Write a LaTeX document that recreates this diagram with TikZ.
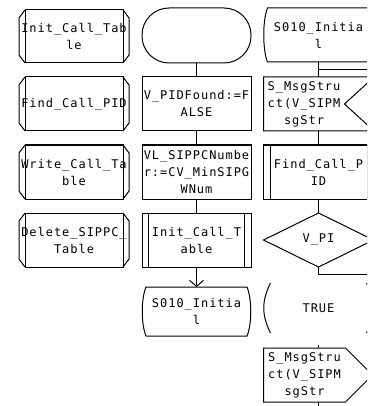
\documentclass[tikz,border=0pt]{standalone}
\usepackage{fontspec}
\newfontfamily\sdlfont[LetterSpace=8]{DejaVu Sans Mono}
\usetikzlibrary{shapes.geometric,calc,arrows.meta}
% one centred text row that does not widen its symbol
\newcommand\sdlrow[1]{\makebox[0pt]{#1}}

\begin{document}
\begin{tikzpicture}[x=1pt,y=-1pt,
  sdl/.style={line width=1pt},
  sym/.style={sdl, rectangle, inner sep=0pt, outer sep=0pt, align=center,
    font={\sdlfont\fontsize{12}{17}\selectfont}},
  procref/.style={sym, draw, minimum width=98pt, minimum height=54pt},
  task/.style={sym, draw, minimum width=109pt, minimum height=54pt},
  startsym/.style={sym, draw, rounded corners=27pt, minimum width=109pt, minimum height=55pt},
  plain/.style={sym, minimum height=54pt},
  decision/.style={sym, draw, diamond, aspect=2, minimum width=110pt, minimum height=54pt},
  flowarrow/.style={sdl, -{Straight Barb[length=6pt,width=14pt]}}
]
\useasboundingbox (0,0) rectangle (367,406);
\fill[white] (0,0) rectangle (367,406);
\clip (0,0) rectangle (367,406);

% ---- procedure references ----
\node[procref, minimum height=53pt] (L1) at (74,36.5) {\sdlrow{Init\_Call\_Tab}\\\sdlrow{le}};
\node[procref] (L2) at (74,104) {\sdlrow{Find\_Call\_PID}};
\node[procref] (L3) at (74,172) {\sdlrow{Write\_Call\_Ta}\\\sdlrow{ble}};
\node[procref] (L4) at (74,240) {\sdlrow{Delete\_SIPPC\_}\\\sdlrow{Table}};
\foreach \n in {L1,L2,L3,L4} {
  \draw[sdl] (\n.north west) -- ++(-6,8) -- ($(\n.south west)+(-6,-8)$) -- (\n.south west);
  \draw[sdl] (\n.north east) -- ++(6,8) -- ($(\n.south east)+(6,-8)$) -- (\n.south east);
}

% ---- start transition ----
\node[startsym] (M1) at (196.5,35.5) {};
\node[task] (M2) at (196.5,104) {\sdlrow{V\_PIDFound:=F}\\\sdlrow{ALSE}};
\node[task] (M3) at (196.5,172) {\sdlrow{VL\_SIPPCNumbe}\\\sdlrow{r:=CV\_MinSIPG}\\\sdlrow{WNum}};
\node[task] (M4) at (196.5,240) {\sdlrow{Init\_Call\_T}\\\sdlrow{able}};
\node[plain, minimum width=109pt, minimum height=49pt] (M5) at (196.5,311.5) {\sdlrow{S010\_Initia}\\\sdlrow{l}};

% ---- state S010_Initial ----
\node[plain, minimum width=110pt] (R1) at (318.5,35) {\sdlrow{S010\_Initia}\\\sdlrow{l}};
\node[plain, minimum width=81pt] (R2) at (304,104) {\sdlrow{S\_MsgStru}\\\sdlrow{ct(V\_SIPM}\\\sdlrow{sgStr}};
\node[task, minimum width=110pt] (R3) at (318.5,172) {\sdlrow{Find\_Call\_P}\\\sdlrow{ID}};
\node[decision] (R4) at (318.5,240) {V\_PI};
\node[plain, minimum width=110pt, minimum height=50pt] (R5) at (318.5,308) {TRUE};
\node[plain, minimum width=82pt] (R6) at (304.5,375) {\sdlrow{S\_MsgStru}\\\sdlrow{ct(V\_SIPM}\\\sdlrow{sgStr}};

% procedure call bars
\foreach \n in {M4,R3} {
  \draw[sdl] ($(\n.north west)+(6.5,0)$) -- ($(\n.south west)+(6.5,0)$)
             ($(\n.north east)+(-6.5,0)$) -- ($(\n.south east)+(-6.5,0)$);
}
% nextstate / state outlines
\foreach \n in {M5,R1} {
  \draw[sdl] ($(\n.north west)+(4,0)$) -- ($(\n.north east)+(-4,0)$)
    .. controls ($(\n.north east)+(1,12)$) and ($(\n.south east)+(1,-12)$) .. ($(\n.south east)+(-4,0)$)
    -- ($(\n.south west)+(4,0)$)
    .. controls ($(\n.south west)+(-1,-12)$) and ($(\n.north west)+(-1,12)$) .. cycle;
}
% input signal
\draw[sdl] (R2.north west) -- ($(R2.north east)+(29.5,0)$) -- (R2.east)
  -- ($(R2.south east)+(29.5,0)$) -- (R2.south west) -- cycle;
% answer brackets
\draw[sdl] ($(R5.north west)+(7,0)$) .. controls ($(R5.north west)+(-2,18)$) and ($(R5.south west)+(-2,-18)$) .. ($(R5.south west)+(7,0)$);
\draw[sdl] ($(R5.north east)+(-7,0)$) .. controls ($(R5.north east)+(2,18)$) and ($(R5.south east)+(2,-18)$) .. ($(R5.south east)+(-7,0)$);
% output signal
\draw[sdl] (R6.north west) -- (R6.north east) -- ($(R6.east)+(27,0)$)
  -- (R6.south east) -- (R6.south west) -- cycle;

% ---- flow lines ----
\coordinate (br1) at (385,70);
\coordinate (br2) at (385,274);
\coordinate (s5) at (318.5,345);
\coordinate (rout) at (318.5,412);

\draw[sdl] (M1.south) -- (M2.north);
\draw[sdl] (M2.south) -- (M3.north);
\draw[sdl] (M3.south) -- (M4.north);
\draw[flowarrow] (M4.south) -- (M5.north);

\draw[sdl] (R1.south) -- (R1.south |- R2.north);
\draw[sdl] (R1.south |- br1) -- (br1);
\draw[sdl] (R3.north |- R2.south) -- (R3.north);
\draw[sdl] (R3.south) -- (R4.north);
\draw[sdl] (R4.south) -- (R4.south |- br2) -- (br2);
\draw[sdl] (s5) -- (s5 |- R6.north);
\draw[sdl] (s5 |- R6.south) -- (rout);
\end{tikzpicture}
\end{document}
